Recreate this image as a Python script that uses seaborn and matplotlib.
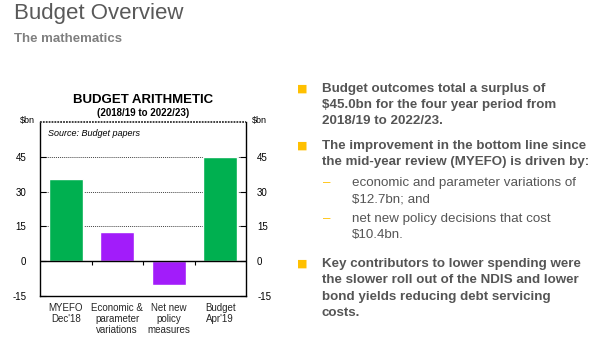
import matplotlib
matplotlib.use("Agg")
import matplotlib.pyplot as plt
import seaborn as sns
import pandas as pd

categories = ["MYEFO\nDec'18", "Economic &\nparameter\nvariations", "Net new\npolicy\nmeasures", "Budget\nApr'19"]
values = [35.6, 12.4, -10.3, 45.0]
bar_kind = ["total", "change", "change", "total"]
yticks = [-15, 0, 15, 30, 45]

sns.set_theme(style="white")
plt.rcParams['font.family'] = ['Liberation Sans', 'DejaVu Sans']

W, H = 601, 343
fig = plt.figure(figsize=(W / 100, H / 100), dpi=100)

def fx(px):
    return px / W

def fy(py):
    return 1 - py / H

ax = fig.add_axes([fx(40), fy(296), fx(246) - fx(40), fy(122) - fy(296)])
df = pd.DataFrame({"cat": categories, "val": values, "kind": bar_kind})
sns.barplot(data=df, x="cat", y="val", hue="kind",
            palette={"total": "#00B050", "change": "#A21CFA"},
            width=0.66, dodge=False, legend=False, saturation=1, ax=ax)
ax.set_ylim(-15, 60)
ax.set_xlim(-0.5, 3.5)
ax.set_xlabel("")
ax.set_ylabel("")
ax.set_yticks(yticks)
ax.set_yticklabels([str(t) for t in yticks], fontsize=7)
ax.tick_params(axis="y", direction="in", length=4, width=0.8, colors="black", pad=10)
ax.tick_params(axis="x", length=0, pad=5, labelsize=7)
for lab in ax.get_xticklabels():
    lab.set_linespacing(1.15)
for t in [15, 30, 45]:
    ax.axhline(t, color="#444444", lw=0.7, ls=(0, (1, 1)), zorder=0)
ax.axhline(0, color="black", lw=1.0, zorder=3)
ax.vlines([0.5, 1.5, 2.5], -1.6, 0, color="black", lw=0.8, zorder=3)
for s in ["left", "right", "bottom"]:
    ax.spines[s].set_color("black")
    ax.spines[s].set_linewidth(1.0)
ax.spines["top"].set_visible(False)
ax.axhline(60, color="#333333", lw=1.3, ls=(0, (1, 0.6)), clip_on=False, zorder=4)

ax2 = ax.twinx()
ax2.set_ylim(ax.get_ylim())
ax2.set_yticks(yticks)
ax2.set_yticklabels([str(t) for t in yticks], fontsize=7)
ax2.tick_params(axis="y", direction="in", length=4, width=0.8, colors="black", pad=8)
for s in ["left", "right", "top", "bottom"]:
    ax2.spines[s].set_visible(False)

ax.text(0.04, 0.935, "Source: Budget papers", transform=ax.transAxes,
        fontsize=6.5, style="italic", va="center", ha="left", color="black")

fig.text(fx(143), fy(100), "BUDGET ARITHMETIC", fontsize=9.5, fontweight="bold",
         ha="center", va="center", color="black")
fig.text(fx(143), fy(113), "(2018/19 to 2022/23)", fontsize=7, fontweight="bold",
         ha="center", va="center", color="black")
fig.text(fx(27), fy(121), "$bn", fontsize=6.5, ha="center", va="center", color="black")
fig.text(fx(259), fy(121), "$bn", fontsize=6.5, ha="center", va="center", color="black")

fig.text(fx(14), fy(14), "Budget Overview", fontsize=16, color="#595959",
         ha="left", va="center")
fig.text(fx(14), fy(39), "The mathematics", fontsize=9.5, color="#7F7F7F",
         fontweight="bold", ha="left", va="center")

txt_color = "#555555"
bullet_color = "#FFC000"
fs = 9.65
lines = [
    ("b", 89, "Budget outcomes total a surplus of"),
    ("", 105, "$45.0bn for the four year period from"),
    ("", 121, "2018/19 to 2022/23."),
    ("b", 146, "The improvement in the bottom line since"),
    ("", 162, "the mid-year review (MYEFO) is driven by:"),
    ("d", 183, "economic and parameter variations of"),
    ("s", 199, "$12.7bn; and"),
    ("d", 219, "net new policy decisions that cost"),
    ("s", 235, "$10.4bn."),
    ("b", 264, "Key contributors to lower spending were"),
    ("", 280, "the slower roll out of the NDIS and lower"),
    ("", 297, "bond yields reducing debt servicing"),
    ("", 313, "costs."),
]
for kind, y, text in lines:
    if kind in ("b", ""):
        if kind == "b":
            fig.text(fx(302), fy(y), "\u25A0", fontsize=8, color=bullet_color,
                     ha="center", va="center", family="DejaVu Sans")
        fig.text(fx(322), fy(y), text, fontsize=fs, fontweight="bold",
                 color=txt_color, ha="left", va="center")
    else:
        if kind == "d":
            fig.text(fx(327), fy(y), "\u2013", fontsize=fs, color=bullet_color,
                     ha="center", va="center")
        fig.text(fx(352), fy(y), text, fontsize=fs, color=txt_color,
                 ha="left", va="center")

fig.savefig("out.png", dpi=100)
